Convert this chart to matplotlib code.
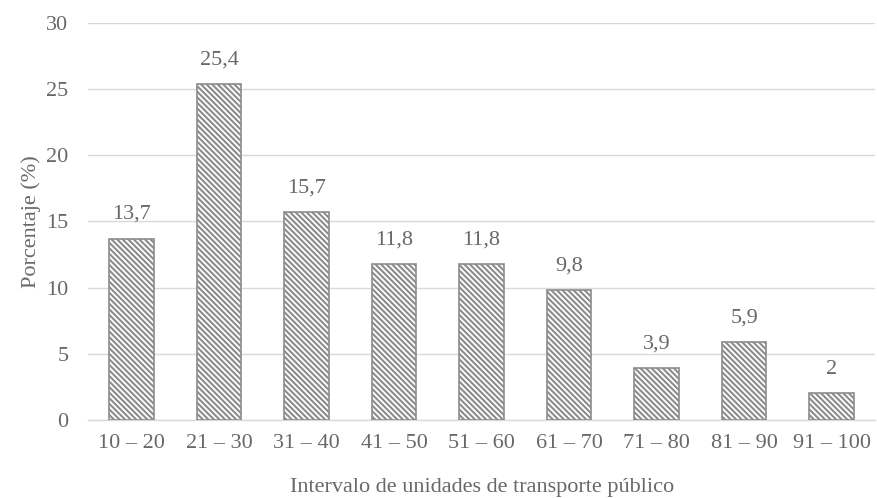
import matplotlib
matplotlib.use("Agg")
import matplotlib.pyplot as plt

categories = ["10 – 20", "21 – 30", "31 – 40", "41 – 50", "51 – 60",
              "61 – 70", "71 – 80", "81 – 90", "91 – 100"]
values = [13.7, 25.4, 15.7, 11.8, 11.8, 9.8, 3.9, 5.9, 2]
value_labels = ["13,7", "25,4", "15,7", "11,8", "11,8", "9,8", "3,9", "5,9", "2"]
yticks = [0, 5, 10, 15, 20, 25, 30]

plt.rcParams['font.family'] = ['Liberation Serif', 'DejaVu Serif']
plt.rcParams['hatch.color'] = '#808080'
plt.rcParams['hatch.linewidth'] = 1.5

txt = '#686868'
fs = 16
fig = plt.figure(figsize=(8.78, 4.98), dpi=100)
ax = fig.add_axes([0.1, 0.157, 0.897, 0.797])

x = list(range(len(categories)))
bars = ax.bar(x, values, width=0.51, color='white', edgecolor='#8c8c8c',
              linewidth=1.2, hatch='\\' * 6, zorder=3)
for xi, v, lab in zip(x, values, value_labels):
    ax.text(xi, v + 1.1, lab, ha='center', va='bottom', fontsize=fs, color=txt)

ax.set_xlim(-0.5, len(categories) - 0.5)
ax.set_ylim(0, 30)
ax.set_yticks(yticks)
ax.set_xticks(x)
ax.set_xticklabels(categories)
ax.tick_params(axis='both', length=0, labelsize=fs, colors=txt)
ax.tick_params(axis='y', pad=14)
ax.tick_params(axis='x', pad=10)
ax.grid(axis='y', color='#d9d9d9', linewidth=1.0, zorder=0)
for s in ['top', 'right', 'left']:
    ax.spines[s].set_visible(False)
ax.spines['bottom'].set_color('#d9d9d9')
ax.spines['bottom'].set_linewidth(1.0)
ax.set_ylabel("Porcentaje (%)", fontsize=fs, color=txt, labelpad=4)
ax.set_xlabel("Intervalo de unidades de transporte público", fontsize=fs,
              color=txt, labelpad=18)

fig.savefig("out.png", dpi=100)
